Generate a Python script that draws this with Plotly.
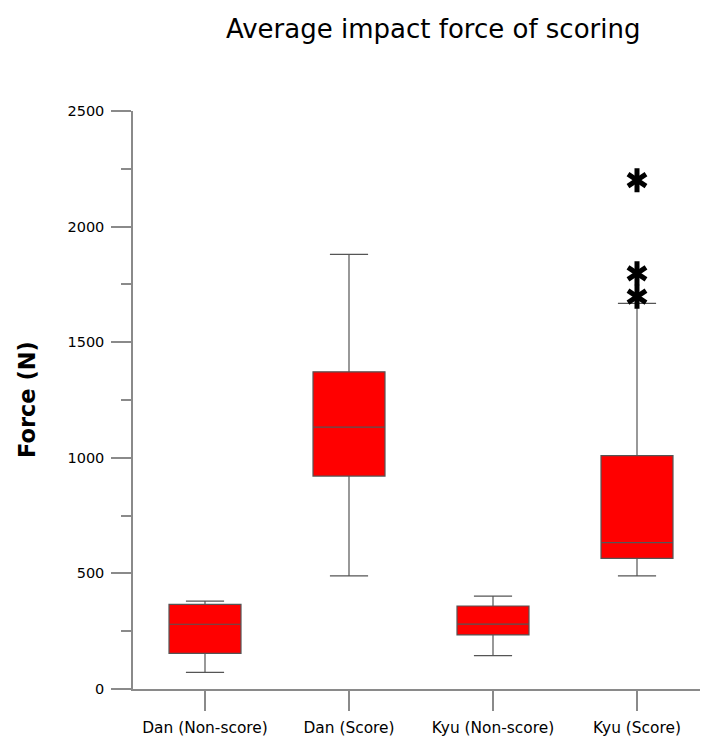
import plotly.graph_objects as go

categories = ["Dan (Non-score)", "Dan (Score)", "Kyu (Non-score)", "Kyu (Score)"]
lower_whisker = [72, 489, 144, 489]
q1_values = [154, 921, 234, 565]
median_values = [280, 1133, 281, 633]
q3_values = [366, 1372, 359, 1009]
upper_whisker = [380, 1880, 402, 1668]

outlier_category = ["Kyu (Score)", "Kyu (Score)", "Kyu (Score)"]
outlier_values = [2201, 1798, 1697]

y_tick_values = [0, 500, 1000, 1500, 2000, 2500]

FONT = "DejaVu Sans, Liberation Sans, Arial, sans-serif"

fig = go.Figure()
fig.add_trace(go.Box(
    x=categories,
    q1=q1_values, median=median_values, q3=q3_values,
    lowerfence=lower_whisker, upperfence=upper_whisker,
    boxpoints=False,
    fillcolor="#ff0000",
    line=dict(color="#555555", width=1.2),
    width=0.5,
    whiskerwidth=0.53,
    showlegend=False,
    hoverinfo="skip",
))
for sym in ["y-up-open", "y-down-open"]:
    fig.add_trace(go.Scatter(
        x=outlier_category, y=outlier_values, mode="markers",
        marker=dict(symbol=sym, size=15, line=dict(color="black", width=5), color="black"),
        showlegend=False, hoverinfo="skip", cliponaxis=False,
    ))

fig.update_layout(
    width=701, height=740,
    margin=dict(l=133, r=1, t=111, b=51),
    paper_bgcolor="white", plot_bgcolor="white",
    font=dict(family=FONT, color="black"),
    title=dict(text="Average impact force of scoring", x=0.618, xanchor="center",
               y=0.9605, yanchor="middle", font=dict(family=FONT, size=26, color="black")),
)
fig.add_annotation(
    text="<b>Force (N)</b>", xref="paper", yref="paper",
    x=-(133 - 27) / 567, y=0.5, xanchor="center", yanchor="middle",
    textangle=-90, showarrow=False,
    font=dict(family=FONT, size=22.5, color="black"),
)
fig.update_xaxes(
    type="category", categoryorder="array", categoryarray=categories,
    range=[-0.5, 3.4375],
    showline=True, linecolor="#8a8a8a", linewidth=1.5,
    ticks="outside", ticklen=20, tickcolor="#8a8a8a", tickwidth=1.5,
    tickfont=dict(family=FONT, size=15.4, color="black"),
    ticklabelstandoff=4,
    showgrid=False, zeroline=False,
)
fig.update_yaxes(
    range=[0, 2500],
    tickvals=y_tick_values,
    showline=True, linecolor="#8a8a8a", linewidth=1.5,
    ticks="outside", ticklen=20, tickcolor="#8a8a8a", tickwidth=1.5,
    minor=dict(dtick=250, ticks="outside", ticklen=10, tickcolor="#8a8a8a", tickwidth=1.5, showgrid=False),
    tickfont=dict(family=FONT, size=14.5, color="black"),
    ticklabelstandoff=4,
    showgrid=False, zeroline=False,
)

fig.write_html("out.html", config={"displayModeBar": False},
               post_script="document.body.style.margin='0';")
